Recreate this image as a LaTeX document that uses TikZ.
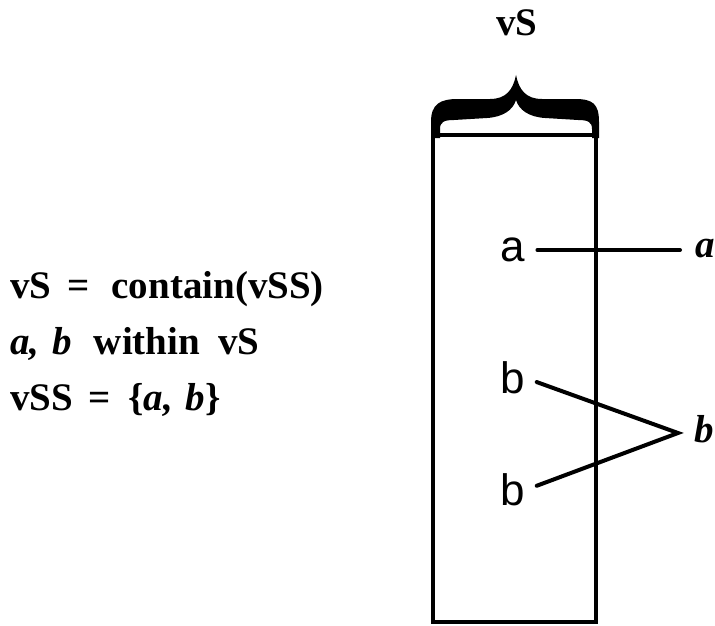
\documentclass[tikz,border=0pt]{standalone}
\usepackage{fontspec}
\setmainfont{Liberation Serif}
\newfontfamily\eltfont{Liberation Sans}
\usetikzlibrary{positioning}

\begin{document}
\begin{tikzpicture}[x=1pt,y=-1pt,
    rel/.style={font=\fontsize{39}{44}\selectfont\bfseries,inner sep=0pt},
    elt/.style={font=\fontsize{44}{50}\selectfont\eltfont,inner sep=0pt},
    bind/.style={line width=4pt,line cap=round}]
  \useasboundingbox (0,0) rectangle (715,626);
  % the box vS
  \coordinate (TL) at (433,135);
  \coordinate (BR) at (596,622);
  \draw[line width=3.5pt] (TL) rectangle (BR);
  % brace over the box
  \fill (431,138) -- (431,122) .. controls (431,104) and (440,99) .. (458,99)
    -- (490,99) .. controls (506,99) and (513,90) .. (516,75)
    .. controls (519,90) and (526,99) .. (542,99) -- (575,99)
    .. controls (593,99) and (599,104) .. (599,122) -- (599,138)
    -- (592,138) -- (592,129) .. controls (592,122) and (588,120) .. (578,120)
    -- (545,118) .. controls (529,117) and (519,110) .. (516,100)
    .. controls (513,110) and (503,117) .. (487,118) -- (454,120)
    .. controls (444,120) and (440,122) .. (440,129) -- (440,138) -- cycle;
  \node[rel,anchor=base] (top) at (517,36) {vS};
  % relations
  \node[rel,anchor=base west] (l1) at (10,298) {vS\hspace{16pt}=\hspace{22pt}contain(vSS)};
  \node[rel,anchor=base west] (l2) at (10,354) {\itshape a,\hspace{13pt}b\hspace{22pt}\upshape within\hspace{18pt}vS};
  \node[rel,anchor=base west] (l3) at (10,410) {vSS\hspace{15pt}=\hspace{18pt}\{\itshape a,\hspace{13pt}b\upshape\}};
  % elements
  \node[elt] (a1) at (513,250) {a};
  \node[elt] (b1) at (513,378) {b};
  \node[elt] (b2) at (513,490) {b};
  \node[rel,anchor=base west] (ra) at (695,257) {\itshape a};
  \node[rel,anchor=base west] (rb) at (694,442) {\itshape b};
  \coordinate (bj) at (678,433);
  \draw[bind,shorten <=12pt,shorten >=15pt] (a1.east) -- (a1.east -| ra.west);
  \draw[bind,shorten <=12pt,shorten >=12pt] (b1.east) -- (bj) -- (b2.east);
\end{tikzpicture}
\end{document}
